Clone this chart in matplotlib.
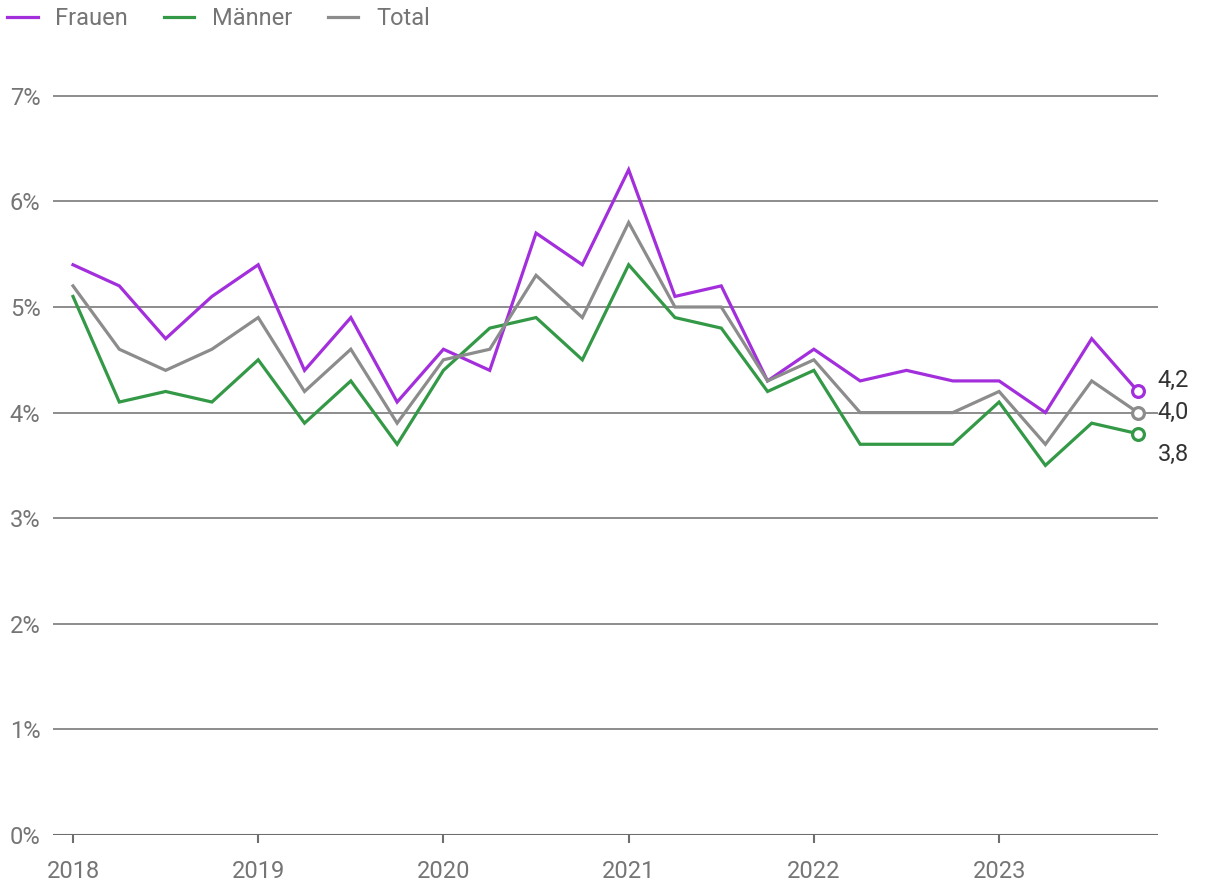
import numpy as np
import matplotlib
matplotlib.use("Agg")
from matplotlib import pyplot as plt

plt.rcParams['font.family'] = ['Roboto', 'DejaVu Sans']

# quarterly values 2018 Q1 .. 2023 Q4
quarters = np.arange(2018, 2024, 0.25)
frauen = [5.4, 5.2, 4.7, 5.1, 5.4, 4.4, 4.9, 4.1, 4.6, 4.4, 5.7, 5.4,
          6.3, 5.1, 5.2, 4.3, 4.6, 4.3, 4.4, 4.3, 4.3, 4.0, 4.7, 4.2]
maenner = [5.1, 4.1, 4.2, 4.1, 4.5, 3.9, 4.3, 3.7, 4.4, 4.8, 4.9, 4.5,
           5.4, 4.9, 4.8, 4.2, 4.4, 3.7, 3.7, 3.7, 4.1, 3.5, 3.9, 3.8]
total = [5.2, 4.6, 4.4, 4.6, 4.9, 4.2, 4.6, 3.9, 4.5, 4.6, 5.3, 4.9,
         5.8, 5.0, 5.0, 4.3, 4.5, 4.0, 4.0, 4.0, 4.2, 3.7, 4.3, 4.0]
series = [("Frauen", frauen, "#a32fdc", 8),
          ("Männer", maenner, "#349946", -15),
          ("Total", total, "#8c8c8c", 0)]
year_ticks = [2018, 2019, 2020, 2021, 2022, 2023]
y_ticks = [0, 1, 2, 3, 4, 5, 6, 7]

fig = plt.figure(figsize=(12.2, 8.96), dpi=100)
ax = fig.add_axes([53/1220, 61/896, 1105/1220, 792/896])

txt = "#757575"
for y in y_ticks[1:]:
    ax.axhline(y, color="#6e6e6e", lw=1.1, zorder=1)
ax.axhline(0, color="#6e6e6e", lw=1.5, zorder=1)

for name, vals, col, dy in series:
    ax.plot(quarters, vals, color=col, lw=2.3, label=name, zorder=3,
            solid_joinstyle="miter")
    ax.plot(quarters[-1], vals[-1], "o", ms=8.5, mfc="white", mec=col,
            mew=2.3, zorder=4, clip_on=False)
    # end value label, nudged so they don't collide
    ax.annotate(f"{vals[-1]:.1f}".replace(".", ","), (quarters[-1], vals[-1]),
                xytext=(14, dy), textcoords="offset points", va="center",
                ha="left", fontsize=17, color="#333333")

ax.set_ylim(0, 7.5)
ax.set_xlim(2018 - 20/185.2, 2023.75 + 20/185.2)
ax.set_yticks(y_ticks)
ax.set_yticklabels([f"{y}%" for y in y_ticks])
ax.set_xticks(year_ticks)
ax.set_xticklabels([str(y) for y in year_ticks])
for s in ax.spines.values():
    s.set_visible(False)
ax.tick_params(axis="y", length=0, pad=9, labelsize=17, labelcolor=txt)
ax.tick_params(axis="x", length=6, width=1.5, color="#6e6e6e", pad=12,
               labelsize=17, labelcolor=txt)

fig.legend(loc="upper left", bbox_to_anchor=(0.0, 1.0), ncol=3, frameon=False,
           fontsize=17, labelcolor=txt, handlelength=1.3, handletextpad=0.75,
           columnspacing=1.5, borderaxespad=0, borderpad=0.3)

fig.savefig("out.png", dpi=100)
